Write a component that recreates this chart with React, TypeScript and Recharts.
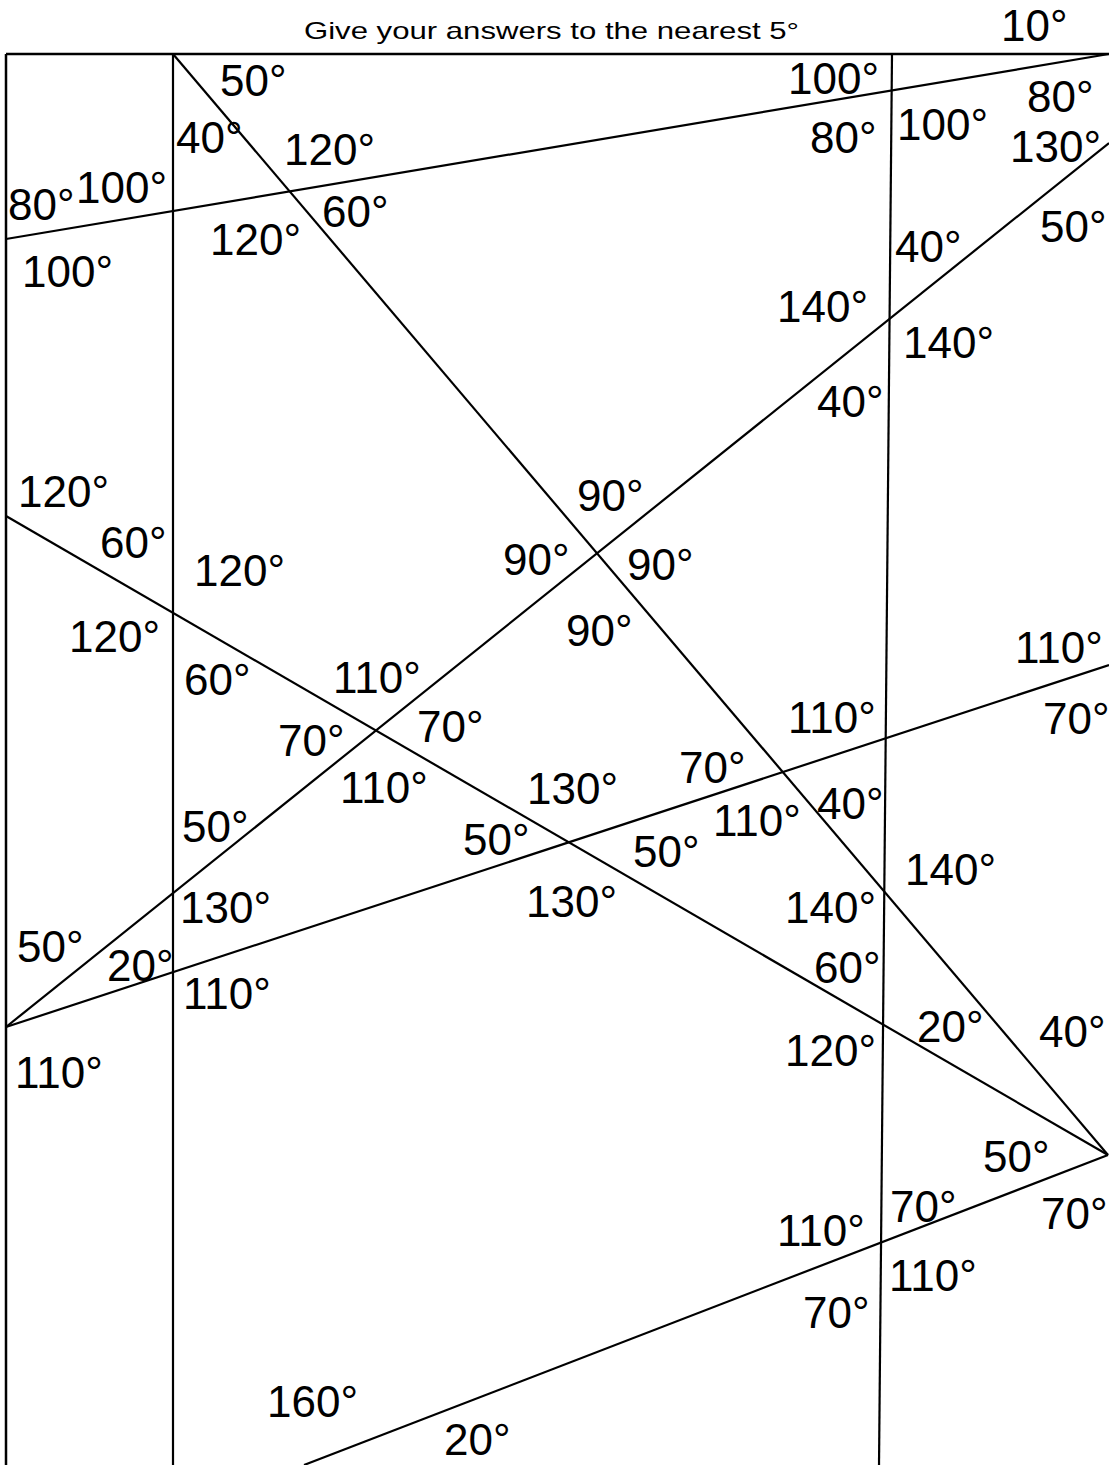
import { ScatterChart, Scatter, XAxis, YAxis, ReferenceLine } from "recharts";

const W = 1109;
const H = 1465;

// every straight line of the figure, as two end points in page pixels
const FRAME: number[][][] = [
  [[6, 54], [1109, 54]],
  [[6, 54], [6, 1465]],
];
const UPRIGHTS: number[][][] = [
  [[173, 54], [173, 1465]],
  [[892, 54], [879, 1465]],
];
const CROSSING_LINES: number[][][] = [
  [[6, 239], [1109, 54]],
  [[173, 54], [1108, 1155]],
  [[6, 1027], [1109, 143]],
  [[6, 516], [1108, 1155]],
  [[6, 1027], [1109, 665]],
  [[304, 1465], [1108, 1155]],
];

// angle labels: text, left x, baseline y
const TOP_ANGLES: [string, number, number][] = [
  ["10°", 1001, 41], ["50°", 220, 96], ["40°", 176, 153], ["120°", 284, 165],
  ["80°", 8, 220], ["100°", 76, 203], ["60°", 322, 227], ["120°", 210, 255],
  ["100°", 22, 287], ["100°", 788, 94], ["80°", 810, 153], ["100°", 897, 140],
  ["80°", 1027, 112], ["130°", 1010, 162], ["50°", 1040, 242], ["40°", 895, 262],
  ["140°", 777, 322], ["140°", 903, 358], ["40°", 817, 417],
];
const MIDDLE_ANGLES: [string, number, number][] = [
  ["120°", 18, 507], ["60°", 100, 558], ["120°", 194, 586], ["120°", 69, 652],
  ["60°", 184, 695], ["110°", 333, 693], ["70°", 278, 756], ["70°", 417, 742],
  ["110°", 340, 803], ["90°", 577, 511], ["90°", 503, 575], ["90°", 627, 580],
  ["90°", 566, 646], ["50°", 182, 842], ["130°", 180, 923], ["50°", 17, 962],
  ["20°", 107, 981], ["110°", 183, 1009], ["110°", 15, 1088], ["110°", 788, 733],
  ["70°", 679, 783], ["130°", 527, 804], ["40°", 817, 819], ["110°", 713, 836],
  ["50°", 463, 855], ["50°", 633, 867], ["130°", 526, 917], ["140°", 785, 923],
  ["60°", 814, 983], ["120°", 785, 1066], ["110°", 1015, 663], ["70°", 1043, 734],
  ["140°", 905, 885], ["20°", 917, 1042], ["40°", 1039, 1047],
];
const BOTTOM_ANGLES: [string, number, number][] = [
  ["50°", 983, 1172], ["70°", 890, 1222], ["70°", 1041, 1229], ["110°", 889, 1291],
  ["110°", 777, 1246], ["70°", 803, 1328], ["160°", 267, 1417], ["20°", 444, 1455],
];

const TITLE: [string, number, number][] = [["Give your answers to the nearest 5°", 304, 39]];

const FONT = "'Liberation Sans', Arial, sans-serif";

const toPoints = (rows: [string, number, number][]) =>
  rows.map(([label, x, y]) => ({ label, x, y }));

const AngleText = (props: any) => (
  <text x={props.cx} y={props.cy} fontSize={44} fontFamily={FONT} fill="#000">
    {props.payload.label}
  </text>
);

const TitleText = (props: any) => (
  <text
    x={props.cx}
    y={props.cy}
    fontSize={24}
    fontFamily={FONT}
    fill="#000"
    textLength={495}
    lengthAdjust="spacingAndGlyphs"
  >
    {props.payload.label}
  </text>
);

const segment = (s: number[][]) => [
  { x: s[0][0], y: s[0][1] },
  { x: s[1][0], y: s[1][1] },
];

export default function App() {
  const labels = [...toPoints(TOP_ANGLES), ...toPoints(MIDDLE_ANGLES), ...toPoints(BOTTOM_ANGLES)];
  return (
    <div style={{ position: "absolute", left: 0, top: 0, background: "#fff" }}>
      <ScatterChart width={W} height={H} margin={{ top: 0, right: 0, bottom: 0, left: 0 }}>
        <XAxis type="number" dataKey="x" domain={[0, W]} allowDataOverflow hide />
        <YAxis type="number" dataKey="y" domain={[0, H]} allowDataOverflow reversed hide />
        {FRAME.map((s, i) => (
          <ReferenceLine key={"f" + i} segment={segment(s)} stroke="#000" strokeWidth={2.5} ifOverflow="visible" />
        ))}
        {UPRIGHTS.map((s, i) => (
          <ReferenceLine key={"u" + i} segment={segment(s)} stroke="#000" strokeWidth={2.2} ifOverflow="visible" />
        ))}
        {CROSSING_LINES.map((s, i) => (
          <ReferenceLine key={"c" + i} segment={segment(s)} stroke="#000" strokeWidth={2.2} ifOverflow="visible" />
        ))}
        <Scatter data={toPoints(TITLE)} shape={TitleText} isAnimationActive={false} />
        <Scatter data={labels} shape={AngleText} isAnimationActive={false} />
      </ScatterChart>
    </div>
  );
}
